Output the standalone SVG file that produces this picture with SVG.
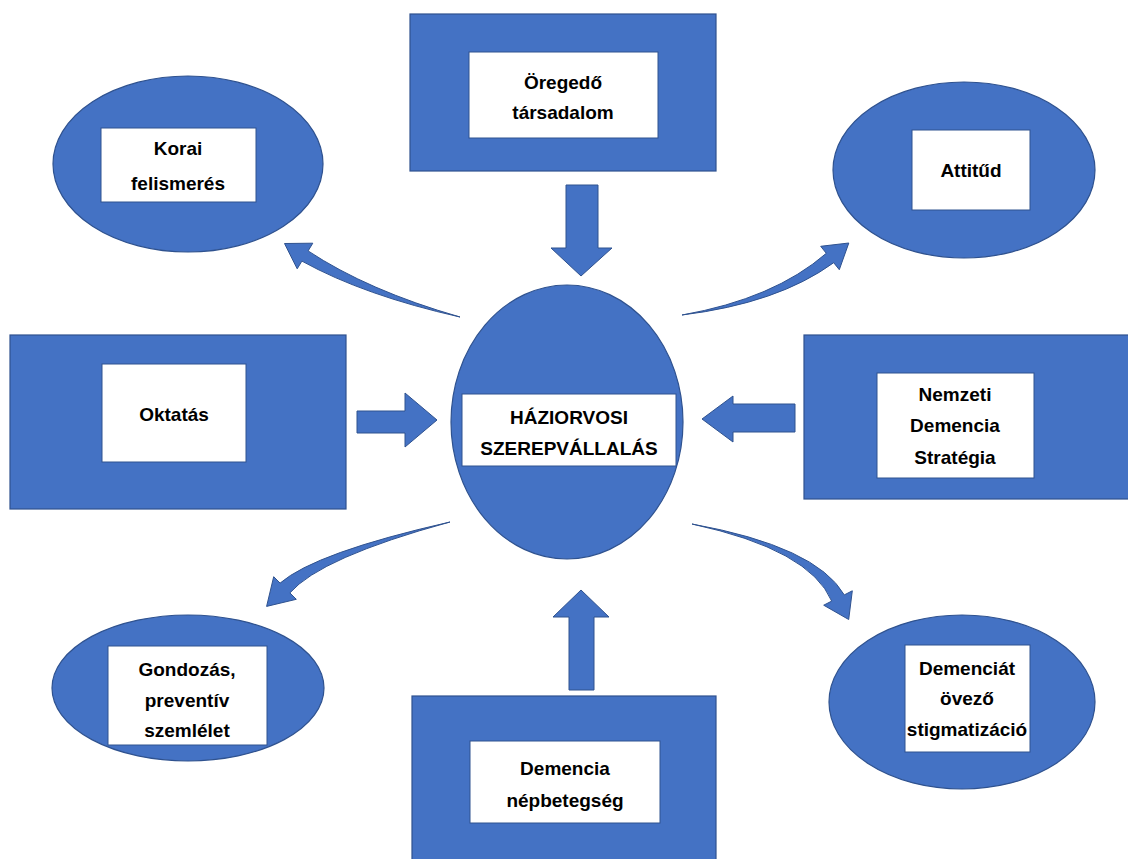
<svg xmlns="http://www.w3.org/2000/svg" width="1128" height="859" viewBox="0 0 1128 859">
<style>
.b{fill:#4472C4;stroke:#2F528F;stroke-width:1.2}
.w{fill:#ffffff;stroke:#2F528F;stroke-width:1}
.t{font-family:"Liberation Sans",Arial,sans-serif;font-weight:bold;font-size:19px;fill:#000;text-anchor:middle}
.a{fill:#4472C4;stroke:#2F528F;stroke-width:1}
</style>
<rect width="1128" height="859" fill="#ffffff"/>
<g id="oregedo">
<rect class="b" x="410" y="14" width="306" height="157"/>
<rect class="w" x="469" y="52" width="189" height="86"/>
<text class="t" x="563" y="89">Öregedő</text>
<text class="t" x="563" y="119">társadalom</text>
</g>
<g id="korai">
<ellipse class="b" cx="188" cy="164" rx="135" ry="88"/>
<rect class="w" x="101" y="128" width="155" height="74"/>
<text class="t" x="178" y="155">Korai</text>
<text class="t" x="178" y="190">felismerés</text>
</g>
<g id="attitud">
<ellipse class="b" cx="964" cy="170" rx="131" ry="88"/>
<rect class="w" x="912" y="130" width="118" height="80"/>
<text class="t" x="971" y="177">Attitűd</text>
</g>
<g id="oktatas">
<rect class="b" x="10" y="335" width="336" height="174"/>
<rect class="w" x="102" y="364" width="144" height="98"/>
<text class="t" x="174" y="421">Oktatás</text>
</g>
<g id="haziorvosi">
<ellipse class="b" cx="567" cy="422" rx="116" ry="137"/>
<rect class="w" x="462" y="394" width="214" height="72"/>
<text class="t" x="569" y="424">HÁZIORVOSI</text>
<text class="t" x="569" y="455">SZEREPVÁLLALÁS</text>
</g>
<g id="nemzeti">
<rect class="b" x="804" y="335" width="330" height="164"/>
<rect class="w" x="877" y="373" width="157" height="105"/>
<text class="t" x="955" y="401">Nemzeti</text>
<text class="t" x="955" y="432">Demencia</text>
<text class="t" x="955" y="464">Stratégia</text>
</g>
<g id="gondozas">
<ellipse class="b" cx="188" cy="688" rx="136" ry="73"/>
<rect class="w" x="108" y="646" width="159" height="99"/>
<text class="t" x="187" y="676">Gondozás,</text>
<text class="t" x="187" y="707">preventív</text>
<text class="t" x="187" y="737">szemlélet</text>
</g>
<g id="stigmatizacio">
<ellipse class="b" cx="962" cy="702" rx="133" ry="87"/>
<rect class="w" x="905" y="645" width="125" height="107"/>
<text class="t" x="967" y="675">Demenciát</text>
<text class="t" x="967" y="705">övező</text>
<text class="t" x="967" y="736">stigmatizáció</text>
</g>
<g id="nepbetegseg">
<rect class="b" x="412" y="696" width="304" height="170"/>
<rect class="w" x="470" y="741" width="190" height="82"/>
<text class="t" x="565" y="775">Demencia</text>
<text class="t" x="565" y="807">népbetegség</text>
</g>
<g id="connectors">
<path class="a" d="M566,185 H598 V248 H612 L581,276 L551,248 H566 Z"/>
<path class="a" d="M569,690 V617 H553 L581,590 L609,617 H594 V690 Z"/>
<path class="a" d="M357,411 H405 V393 L437,420 L405,447 V433 H357 Z"/>
<path class="a" d="M795,404 H733 V396 L702,419 L733,442 V432 H795 Z"/>
<path class="a" d="M460,317 Q367.6,290.4 308.1,250.9 L312.8,243.2 L284.5,243.5 L297.2,268.8 L301.9,261.1 Q364.4,295.6 460,317 Z"/>
<path class="a" d="M682,315 Q774.1,298.7 826.3,253.3 L820.7,246.3 L848.8,243 L839.3,269.7 L833.7,262.7 Q777.9,303.3 682,315 Z"/>
<path class="a" d="M450,522 Q320.5,557.5 289.9,592.9 L296.3,599.3 L266.6,606.4 L273.7,576.7 L280.1,583.1 Q315.5,552.5 450,522 Z"/>
<path class="a" d="M692,524 Q816.1,546.4 844.3,594.9 L852.3,590.8 L848.7,619.5 L823.7,605.2 L831.7,601.1 Q809.9,549.6 692,524 Z"/>
</g>
</svg>
